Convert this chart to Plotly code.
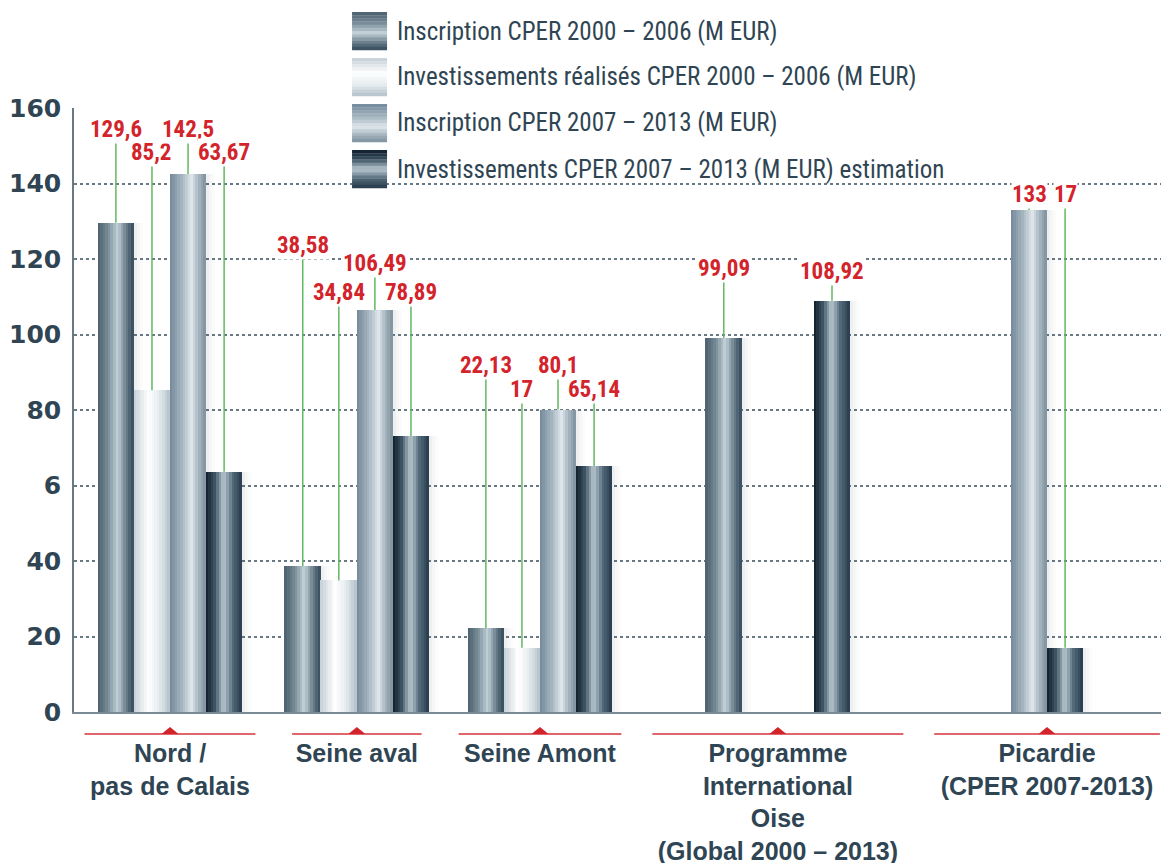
import plotly.graph_objects as go

# data (M EUR)
categories = ["Nord /<br>pas de Calais", "Seine aval", "Seine Amont",
              "Programme<br>International<br>Oise<br>(Global 2000 – 2013)",
              "Picardie<br>(CPER 2007-2013)"]
series_names = ["Inscription CPER 2000 – 2006 (M EUR)",
                "Investissements réalisés CPER 2000 – 2006 (M EUR)",
                "Inscription CPER 2007 – 2013 (M EUR)",
                "Investissements CPER 2007 – 2013 (M EUR) estimation"]
inscription_2000 = [129.6, 38.58, 22.13, 99.09, None]
realise_2000 = [85.2, 34.84, 17, None, None]
inscription_2007 = [142.5, 106.49, 80.1, None, 133]
estimation_2007 = [63.67, 73.1, 65.14, 108.92, 17]

text_2000 = ["129,6", "38,58", "22,13", "99,09", None]
text_real = ["85,2", "34,84", "17", None, None]
text_2007 = ["142,5", "106,49", "80,1", None, "133"]
text_est = ["63,67", "78,89", "65,14", "108,92", "17"]

y_ticks = [0, 20, 40, 60, 80, 100, 120, 140, 160]
y_tick_text = ["0", "20", "40", "6", "80", "100", "120", "140", "160"]

# layout: where groups sit and where the value labels float
group_x = [0, 1.01, 2.0, 3.286, 4.741]
group_shift = [0, 0, 0, 0, -1]
red_width = [0.924, 0.70, 0.88, 1.357, 1.22]
label_y = [[154.4, 123.7, 91.7, 117.6, None],
           [148.1, 111.0, 85.3, None, None],
           [154.4, 118.7, 91.7, None, 137.0],
           [148.1, 111.0, 85.3, 116.8, 137.0]]
BAR_W = 0.195
N_STRIPS = 14

# cylinder-like shading of each series, left edge -> right edge
stops = [
    [(0, "#4a5e6b"), (0.3, "#7a8e9a"), (0.55, "#c3d1d8"), (0.78, "#6f8390"), (1, "#33485a")],
    [(0, "#c4cfd6"), (0.4, "#ffffff"), (0.7, "#e6ecef"), (1, "#b3c1ca")],
    [(0, "#72879a"), (0.35, "#a8b8c2"), (0.6, "#dfe7ec"), (0.8, "#a7b6c0"), (1, "#7c909c")],
    [(0, "#0d1c29"), (0.25, "#3d5363"), (0.5, "#b9c9d1"), (0.75, "#52697a"), (1, "#26394a")],
]

FONT_NARROW = "Roboto Condensed, Liberation Sans Narrow, DejaVu Sans Condensed, sans-serif"
SLATE = "#2f4553"


def hex2rgb(h):
    return [int(h[i:i + 2], 16) for i in (1, 3, 5)]


def shade(st, t):
    for (p0, c0), (p1, c1) in zip(st[:-1], st[1:]):
        if p0 <= t <= p1:
            f = (t - p0) / (p1 - p0)
            a, b = hex2rgb(c0), hex2rgb(c1)
            return "rgb(%d,%d,%d)" % tuple(round(a[i] + (b[i] - a[i]) * f) for i in range(3))
    return st[-1][1]


values = [inscription_2000, realise_2000, inscription_2007, estimation_2007]
texts = [text_2000, text_real, text_2007, text_est]

fig = go.Figure()


def centers(i):
    return [group_x[g] + (i - 1.5 + group_shift[g]) * BAR_W for g in range(len(group_x))]


# soft shadows first, so neighbouring bars cover them
for i, vals in enumerate(values):
    cx = centers(i)
    for j, alpha in enumerate([0.08, 0.045, 0.02]):
        sw = BAR_W / 12
        fig.add_trace(go.Bar(x=[c + BAR_W / 2 + (j + 0.5) * sw for c in cx], y=vals,
                             width=sw, marker=dict(color="rgba(40,50,60,%s)" % alpha, line_width=0),
                             hoverinfo="skip", showlegend=False))

# bars as vertical strips for the gradient
for i, vals in enumerate(values):
    cx = centers(i)
    for k in range(N_STRIPS):
        t = (k + 0.5) / N_STRIPS
        fig.add_trace(go.Bar(x=[c + (t - 0.5) * BAR_W for c in cx], y=vals,
                             width=BAR_W / N_STRIPS * 1.25,
                             marker=dict(color=shade(stops[i], t), line_width=0),
                             name=series_names[i], hoverinfo="skip", showlegend=False))

shapes = []
annotations = []

# value labels with green leader lines
for i, vals in enumerate(values):
    cx = centers(i)
    for g, v in enumerate(vals):
        if v is None:
            continue
        shapes.append(dict(type="line", xref="x", yref="y", x0=cx[g], x1=cx[g],
                           y0=v, y1=label_y[i][g], line=dict(color="#62b862", width=1.5)))
        annotations.append(dict(x=cx[g], y=label_y[i][g], xref="x", yref="y",
                                text=texts[i][g], showarrow=False, bgcolor="white", borderpad=0,
                                font=dict(family=FONT_NARROW, size=23, color="#d3232b", weight="bold")))

# red underline + marker under each category
for g, gx in enumerate(group_x):
    ly = -22 / 604
    shapes.append(dict(type="line", xref="x", yref="paper", x0=gx - red_width[g] / 2,
                       x1=gx + red_width[g] / 2, y0=ly, y1=ly,
                       line=dict(color="#e1666b", width=2)))
    hw = 8.5 / 185
    th = 7 / 604
    shapes.append(dict(type="path", xref="x", yref="paper",
                       path="M %f,%f L %f,%f L %f,%f Z" % (gx - hw, ly, gx + hw, ly, gx, ly + th),
                       fillcolor="#d3232b", line_width=0))

# custom legend with shaded swatches
for i, name in enumerate(series_names):
    yc = (712 - (31 + 46 * i)) / 604
    h = 38 / 604
    n = 12
    for k in range(n):
        t = (k + 0.5) / n
        shapes.append(dict(type="rect", xref="paper", yref="paper",
                           x0=0.2558, x1=0.2880,
                           y0=yc + h / 2 - (k + 1) * h / n - 0.0005, y1=yc + h / 2 - k * h / n,
                           fillcolor=shade(stops[i], t), line_width=0))
    annotations.append(dict(x=0.295, y=yc, xref="paper", yref="paper", text=name,
                            xanchor="left", yanchor="middle", showarrow=False,
                            font=dict(family=FONT_NARROW, size=25, color=SLATE)))

fig.update_layout(
    width=1161, height=863,
    margin=dict(l=74, r=0, t=108, b=151),
    paper_bgcolor="white", plot_bgcolor="white",
    barmode="overlay", bargap=0,
    shapes=shapes, annotations=annotations,
    showlegend=False,
)
fig.update_xaxes(range=[-0.519, 5.357], tickvals=group_x, ticktext=categories,
                 showgrid=False, zeroline=False, showline=True, linecolor="#7b8b95", linewidth=2,
                 ticks="", ticklabelstandoff=18, automargin=False,
                 tickfont=dict(family="Liberation Sans, Arial, sans-serif", size=25,
                               color=SLATE, weight="bold"))
fig.update_yaxes(range=[0, 160], tickvals=y_ticks, ticktext=y_tick_text,
                 showgrid=True, gridcolor="#687983", gridwidth=1.5, griddash="dot",
                 zeroline=False, showline=True, linecolor="#687983", linewidth=1.5,
                 ticks="", ticklabelstandoff=6, automargin=False,
                 tickfont=dict(family="DejaVu Sans, sans-serif", size=25, color=SLATE, weight="bold"))

# the page's default body margin would shift the figure by 8 px
fig.write_html("out.html", config={"displayModeBar": False},
               post_script="document.body.style.margin='0';document.body.style.overflow='hidden';")
